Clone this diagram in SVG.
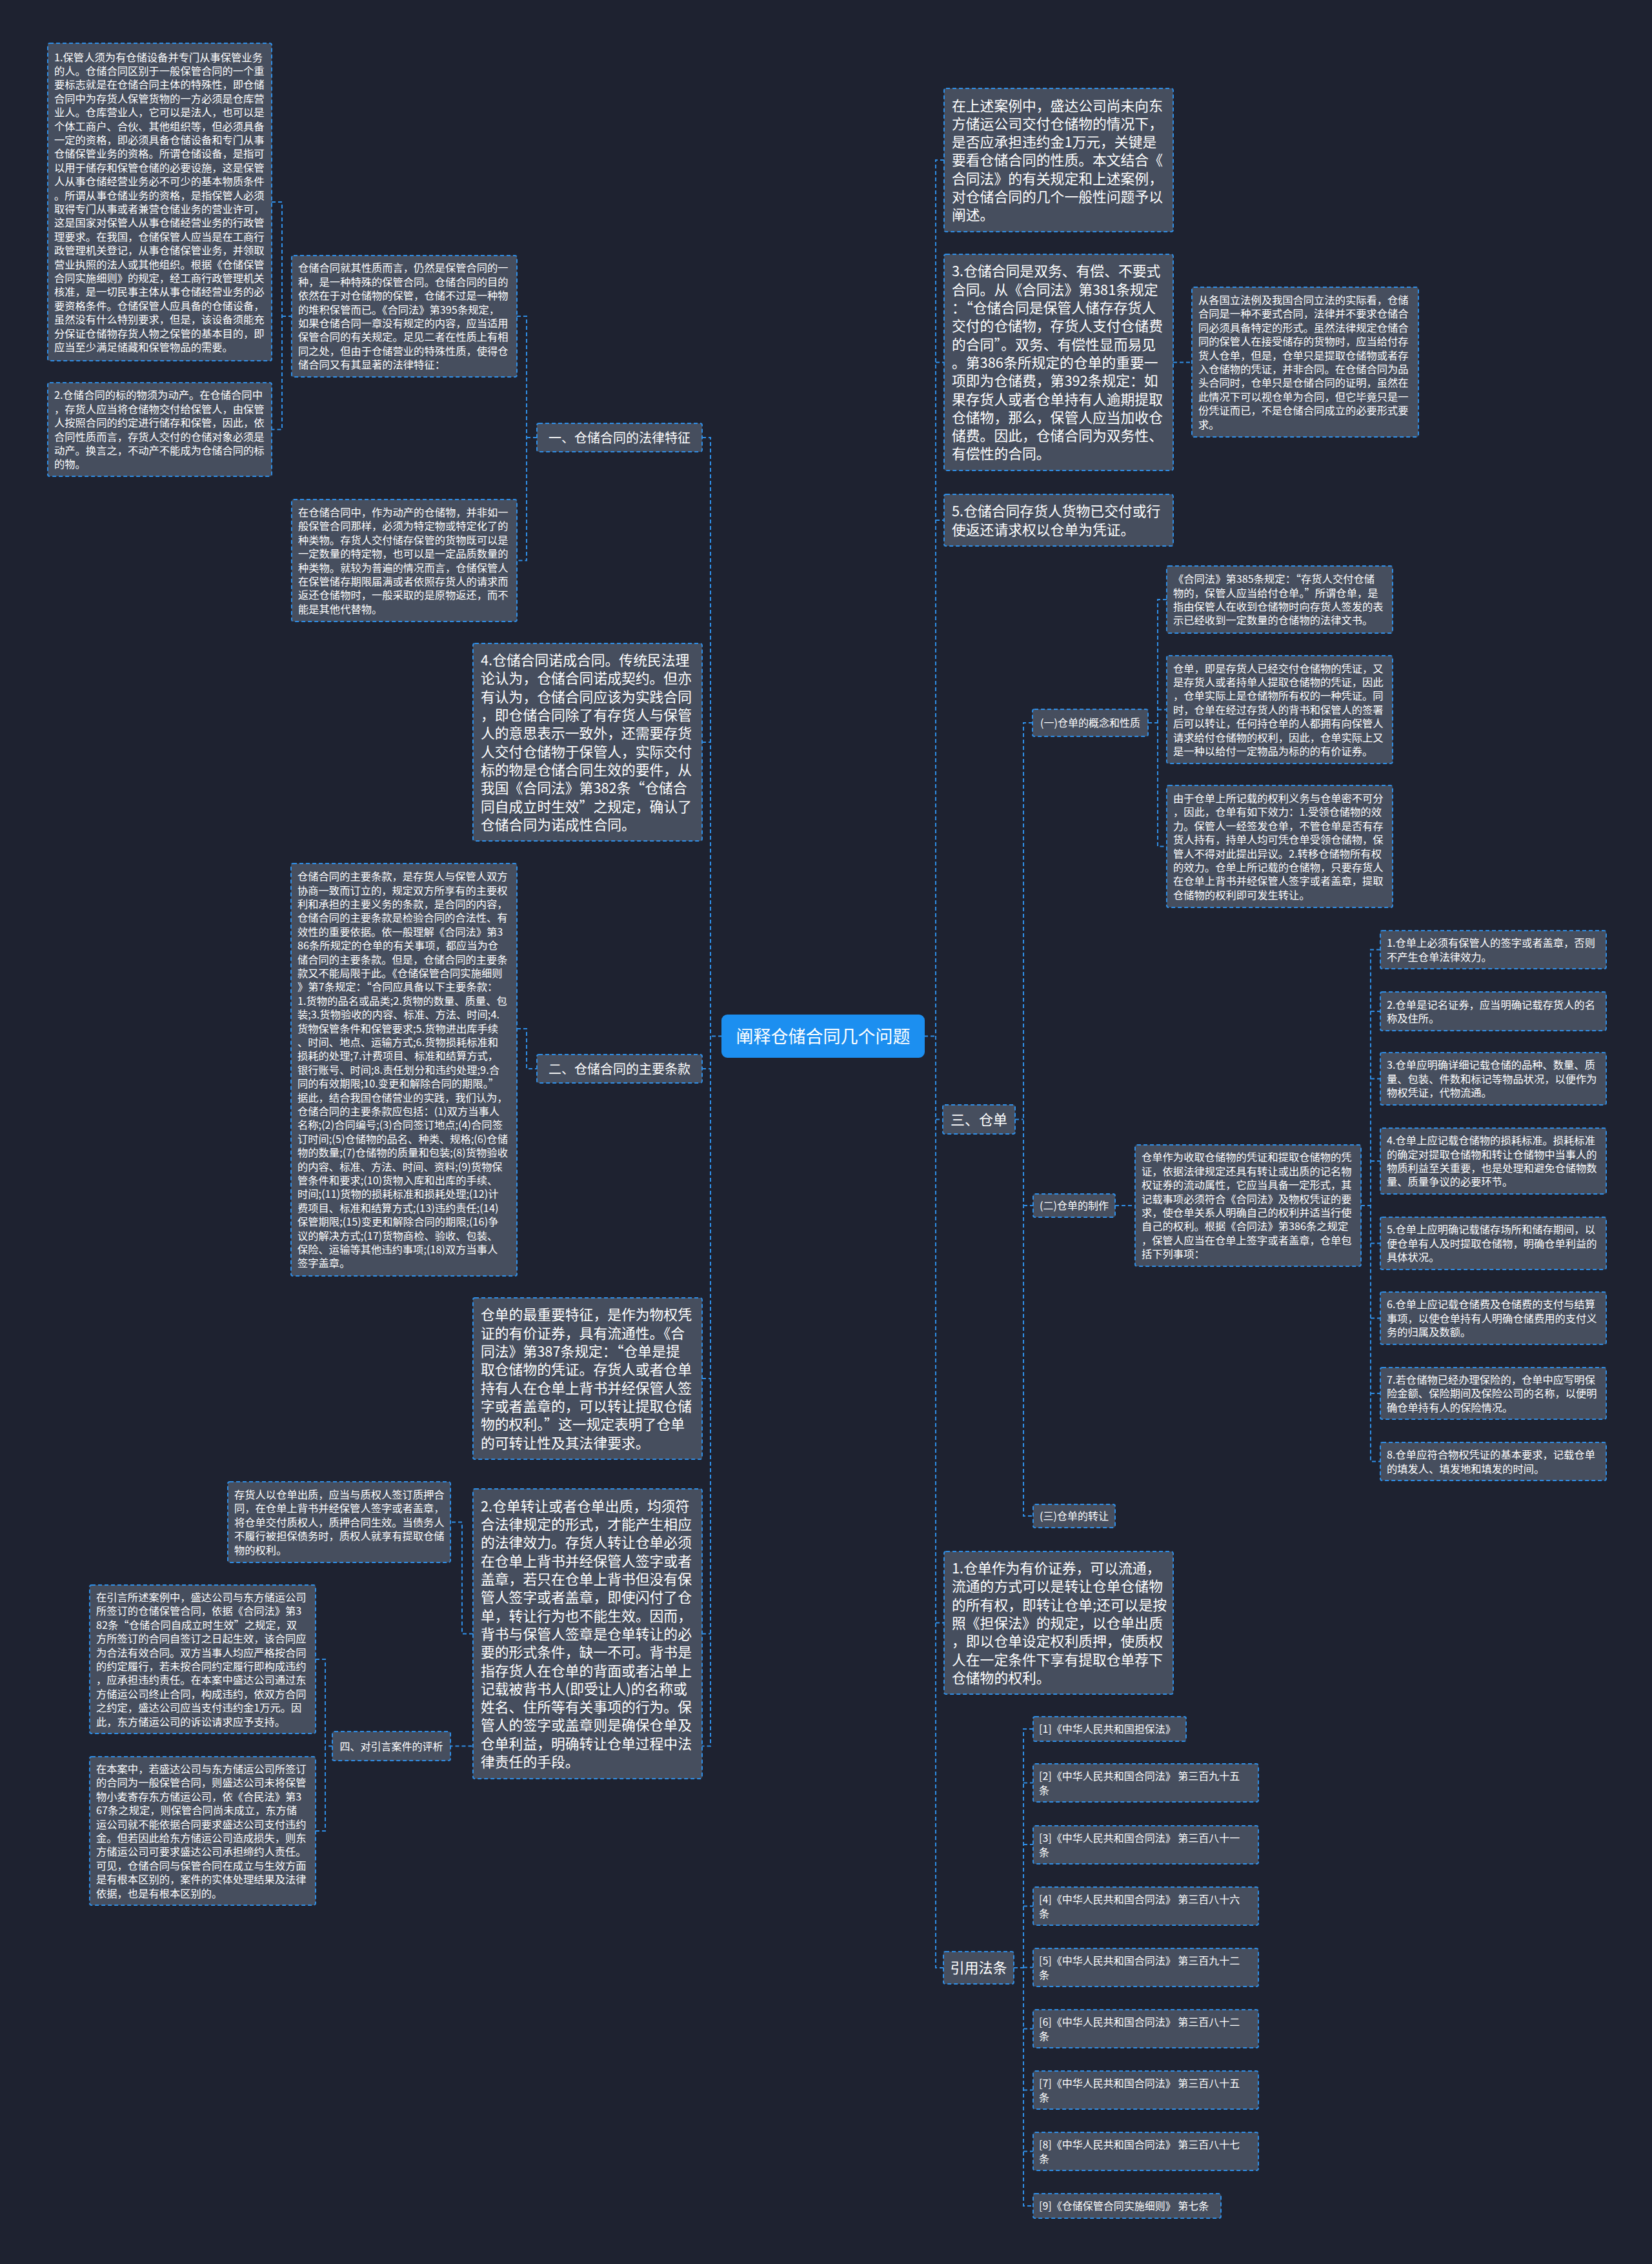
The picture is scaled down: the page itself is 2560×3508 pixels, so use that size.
<svg xmlns="http://www.w3.org/2000/svg" width="2560" height="3508" viewBox="0 0 2560 3508">
<style>
.bg{fill:#1e2230}
.box{fill:#464e5e;stroke:#2f8ee6;stroke-width:2;stroke-dasharray:6 4}
.root{fill:#1c8ff0;stroke:#1c8ff0;stroke-width:2}
.conn{fill:none;stroke:#2f8ee6;stroke-width:2;stroke-dasharray:6 4}
text{font-family:"Noto Sans CJK SC","Noto Sans",sans-serif;fill:#ffffff}
.s{font-size:16.3px}
.b{font-size:21.8px}
.l20{font-size:20px}
.l16{font-size:16px}
.l22{font-size:22px}
.r{font-size:27px}
.m{text-anchor:middle}
</style>
<rect class="bg" x="0" y="0" width="2560" height="3508"/>

<g id="connectors">
<path class="conn" d="M421,313 H437 V665.5 H421 M437,490 H452"/>
<path class="conn" d="M801,490 H816 V868.5 H801 M816,678 H832"/>
<path class="conn" d="M801,1594 H816 V1656 H832"/>
<path class="conn" d="M1119,1605.5 H1101 M1088,678 H1101 V2705.5 H698 M1088,1150 H1101 M1088,1656 H1101 M1088,2136 H1101 M1088,2531.5 H1101"/>
<path class="conn" d="M733,2531.5 H716 V2358.5 H698"/>
<path class="conn" d="M515,2705.5 H504 M489,2571 H504 V2837 H489"/>
<path class="conn" d="M1432,1605.5 H1450 M1463,248 H1450 V3049 H1462 M1450,561.5 H1463 M1450,806 H1463 M1450,1734.5 H1461 M1450,2514.5 H1463"/>
<path class="conn" d="M1818,561.5 H1847"/>
<path class="conn" d="M1573,1734.5 H1586 M1600,1120 H1586 V2349 H1601 M1586,1868 H1601"/>
<path class="conn" d="M1779,1120 H1794 M1808,929 H1794 V1311.5 H1808 M1794,1099.5 H1808"/>
<path class="conn" d="M1728,1868 H1759"/>
<path class="conn" d="M2109,1868 H2124 M2139,1471.5 H2124 V2264.5 H2139 M2124,1567 H2139 M2124,1671.5 H2139 M2124,1799 H2139 M2124,1926.5 H2139 M2124,2042.5 H2139 M2124,2159 H2139"/>
<path class="conn" d="M1571,3049 H1586 M1601,2679 H1586 V3418 H1601 M1586,2762.5 H1601 M1586,2858 H1601 M1586,2953.5 H1601 M1586,3048.5 H1601 M1586,3143.5 H1601 M1586,3238.5 H1601 M1586,3333.5 H1601"/>
</g>

<g id="root">
<rect class="root" x="1119" y="1573" width="313" height="65" rx="8"/>
<text class="r m" x="1275.5" y="1615.8">阐释仓储合同几个问题</text>
</g>

<g id="n-a1">
<rect class="box" x="74" y="67" width="347" height="492" rx="3"/>
<text class="s" x="84" y="94.6"><tspan x="84" dy="0">1.保管人须为有仓储设备并专门从事保管业务</tspan><tspan x="84" dy="21.4">的人。仓储合同区别于一般保管合同的一个重</tspan><tspan x="84" dy="21.4">要标志就是在仓储合同主体的特殊性，即仓储</tspan><tspan x="84" dy="21.4">合同中为存货人保管货物的一方必须是仓库营</tspan><tspan x="84" dy="21.4">业人。仓库营业人，它可以是法人，也可以是</tspan><tspan x="84" dy="21.4">个体工商户、合伙、其他组织等，但必须具备</tspan><tspan x="84" dy="21.4">一定的资格，即必须具备仓储设备和专门从事</tspan><tspan x="84" dy="21.4">仓储保管业务的资格。所谓仓储设备，是指可</tspan><tspan x="84" dy="21.4">以用于储存和保管仓储的必要设施，这是保管</tspan><tspan x="84" dy="21.4">人从事仓储经营业务必不可少的基本物质条件</tspan><tspan x="84" dy="21.4">。所谓从事仓储业务的资格，是指保管人必须</tspan><tspan x="84" dy="21.4">取得专门从事或者兼营仓储业务的营业许可，</tspan><tspan x="84" dy="21.4">这是国家对保管人从事仓储经营业务的行政管</tspan><tspan x="84" dy="21.4">理要求。在我国，仓储保管人应当是在工商行</tspan><tspan x="84" dy="21.4">政管理机关登记，从事仓储保管业务，并领取</tspan><tspan x="84" dy="21.4">营业执照的法人或其他组织。根据《仓储保管</tspan><tspan x="84" dy="21.4">合同实施细则》的规定，经工商行政管理机关</tspan><tspan x="84" dy="21.4">核准，是一切民事主体从事仓储经营业务的必</tspan><tspan x="84" dy="21.4">要资格条件。仓储保管人应具备的仓储设备，</tspan><tspan x="84" dy="21.4">虽然没有什么特别要求，但是，该设备须能充</tspan><tspan x="84" dy="21.4">分保证仓储物存货人物之保管的基本目的，即</tspan><tspan x="84" dy="21.4">应当至少满足储藏和保管物品的需要。</tspan></text>
</g>

<g id="n-a2">
<rect class="box" x="74" y="593" width="347" height="145" rx="3"/>
<text class="s" x="84" y="618.3"><tspan x="84" dy="0">2.仓储合同的标的物须为动产。在仓储合同中</tspan><tspan x="84" dy="21.4">，存货人应当将仓储物交付给保管人，由保管</tspan><tspan x="84" dy="21.4">人按照合同的约定进行储存和保管，因此，依</tspan><tspan x="84" dy="21.4">合同性质而言，存货人交付的仓储对象必须是</tspan><tspan x="84" dy="21.4">动产。换言之，不动产不能成为仓储合同的标</tspan><tspan x="84" dy="21.4">的物。</tspan></text>
</g>

<g id="n-b1">
<rect class="box" x="452" y="396" width="349" height="188" rx="3"/>
<text class="s" x="462" y="421.4"><tspan x="462" dy="0">仓储合同就其性质而言，仍然是保管合同的一</tspan><tspan x="462" dy="21.4">种，是一种特殊的保管合同。仓储合同的目的</tspan><tspan x="462" dy="21.4">依然在于对仓储物的保管，仓储不过是一种物</tspan><tspan x="462" dy="21.4">的堆积保管而已。《合同法》第395条规定，</tspan><tspan x="462" dy="21.4">如果仓储合同一章没有规定的内容，应当适用</tspan><tspan x="462" dy="21.4">保管合同的有关规定。足见二者在性质上有相</tspan><tspan x="462" dy="21.4">同之处，但由于仓储营业的特殊性质，使得仓</tspan><tspan x="462" dy="21.4">储合同又有其显著的法律特征：</tspan></text>
</g>

<g id="n-b2">
<rect class="box" x="452" y="774" width="349" height="189" rx="3"/>
<text class="s" x="462" y="799.9"><tspan x="462" dy="0">在仓储合同中，作为动产的仓储物，并非如一</tspan><tspan x="462" dy="21.4">般保管合同那样，必须为特定物或特定化了的</tspan><tspan x="462" dy="21.4">种类物。存货人交付储存保管的货物既可以是</tspan><tspan x="462" dy="21.4">一定数量的特定物，也可以是一定品质数量的</tspan><tspan x="462" dy="21.4">种类物。就较为普遍的情况而言，仓储保管人</tspan><tspan x="462" dy="21.4">在保管储存期限届满或者依照存货人的请求而</tspan><tspan x="462" dy="21.4">返还仓储物时，一般采取的是原物返还，而不</tspan><tspan x="462" dy="21.4">能是其他代替物。</tspan></text>
</g>

<g id="n-sec1">
<rect class="box" x="832" y="656" width="256" height="44" rx="3"/>
<text class="l20 m" x="960" y="685.6">一、仓储合同的法律特征</text>
</g>

<g id="n-nuocheng">
<rect class="box" x="733" y="997" width="355" height="306" rx="3"/>
<text class="b" x="745" y="1031.1"><tspan x="745" dy="0">4.仓储合同诺成合同。传统民法理</tspan><tspan x="745" dy="28.3">论认为，仓储合同诺成契约。但亦</tspan><tspan x="745" dy="28.3">有认为，仓储合同应该为实践合同</tspan><tspan x="745" dy="28.3">，即仓储合同除了有存货人与保管</tspan><tspan x="745" dy="28.3">人的意思表示一致外，还需要存货</tspan><tspan x="745" dy="28.3">人交付仓储物于保管人，实际交付</tspan><tspan x="745" dy="28.3">标的物是仓储合同生效的要件，从</tspan><tspan x="745" dy="28.3">我国《合同法》第382条“仓储合</tspan><tspan x="745" dy="28.3">同自成立时生效”之规定，确认了</tspan><tspan x="745" dy="28.3">仓储合同为诺成性合同。</tspan></text>
</g>

<g id="n-tiaokuan">
<rect class="box" x="451" y="1338" width="350" height="639" rx="3"/>
<text class="s" x="461" y="1364.2"><tspan x="461" dy="0">仓储合同的主要条款，是存货人与保管人双方</tspan><tspan x="461" dy="21.4">协商一致而订立的，规定双方所享有的主要权</tspan><tspan x="461" dy="21.4">利和承担的主要义务的条款，是合同的内容，</tspan><tspan x="461" dy="21.4">仓储合同的主要条款是检验合同的合法性、有</tspan><tspan x="461" dy="21.4">效性的重要依据。依一般理解《合同法》第3</tspan><tspan x="461" dy="21.4">86条所规定的仓单的有关事项，都应当为仓</tspan><tspan x="461" dy="21.4">储合同的主要条款。但是，仓储合同的主要条</tspan><tspan x="461" dy="21.4">款又不能局限于此。《仓储保管合同实施细则</tspan><tspan x="461" dy="21.4">》第7条规定：“合同应具备以下主要条款：</tspan><tspan x="461" dy="21.4">1.货物的品名或品类;2.货物的数量、质量、包</tspan><tspan x="461" dy="21.4">装;3.货物验收的内容、标准、方法、时间;4.</tspan><tspan x="461" dy="21.4">货物保管条件和保管要求;5.货物进出库手续</tspan><tspan x="461" dy="21.4">、时间、地点、运输方式;6.货物损耗标准和</tspan><tspan x="461" dy="21.4">损耗的处理;7.计费项目、标准和结算方式，</tspan><tspan x="461" dy="21.4">银行账号、时间;8.责任划分和违约处理;9.合</tspan><tspan x="461" dy="21.4">同的有效期限;10.变更和解除合同的期限。”</tspan><tspan x="461" dy="21.4">据此，结合我国仓储营业的实践，我们认为，</tspan><tspan x="461" dy="21.4">仓储合同的主要条款应包括：(1)双方当事人</tspan><tspan x="461" dy="21.4">名称;(2)合同编号;(3)合同签订地点;(4)合同签</tspan><tspan x="461" dy="21.4">订时间;(5)仓储物的品名、种类、规格;(6)仓储</tspan><tspan x="461" dy="21.4">物的数量;(7)仓储物的质量和包装;(8)货物验收</tspan><tspan x="461" dy="21.4">的内容、标准、方法、时间、资料;(9)货物保</tspan><tspan x="461" dy="21.4">管条件和要求;(10)货物入库和出库的手续、</tspan><tspan x="461" dy="21.4">时间;(11)货物的损耗标准和损耗处理;(12)计</tspan><tspan x="461" dy="21.4">费项目、标准和结算方式;(13)违约责任;(14)</tspan><tspan x="461" dy="21.4">保管期限;(15)变更和解除合同的期限;(16)争</tspan><tspan x="461" dy="21.4">议的解决方式;(17)货物商检、验收、包装、</tspan><tspan x="461" dy="21.4">保险、运输等其他违约事项;(18)双方当事人</tspan><tspan x="461" dy="21.4">签字盖章。</tspan></text>
</g>

<g id="n-sec2">
<rect class="box" x="832" y="1634" width="256" height="44" rx="3"/>
<text class="l20 m" x="960" y="1663.6">二、仓储合同的主要条款</text>
</g>

<g id="n-tezheng">
<rect class="box" x="733" y="2011" width="355" height="250" rx="3"/>
<text class="b" x="745" y="2045.4"><tspan x="745" dy="0">仓单的最重要特征，是作为物权凭</tspan><tspan x="745" dy="28.3">证的有价证券，具有流通性。《合</tspan><tspan x="745" dy="28.3">同法》第387条规定：“仓单是提</tspan><tspan x="745" dy="28.3">取仓储物的凭证。存货人或者仓单</tspan><tspan x="745" dy="28.3">持有人在仓单上背书并经保管人签</tspan><tspan x="745" dy="28.3">字或者盖章的，可以转让提取仓储</tspan><tspan x="745" dy="28.3">物的权利。”这一规定表明了仓单</tspan><tspan x="745" dy="28.3">的可转让性及其法律要求。</tspan></text>
</g>

<g id="n-zhuanrang">
<rect class="box" x="733" y="2307" width="355" height="449" rx="3"/>
<text class="b" x="745" y="2341.8"><tspan x="745" dy="0">2.仓单转让或者仓单出质，均须符</tspan><tspan x="745" dy="28.3">合法律规定的形式，才能产生相应</tspan><tspan x="745" dy="28.3">的法律效力。存货人转让仓单必须</tspan><tspan x="745" dy="28.3">在仓单上背书并经保管人签字或者</tspan><tspan x="745" dy="28.3">盖章，若只在仓单上背书但没有保</tspan><tspan x="745" dy="28.3">管人签字或者盖章，即使闪付了仓</tspan><tspan x="745" dy="28.3">单，转让行为也不能生效。因而，</tspan><tspan x="745" dy="28.3">背书与保管人签章是仓单转让的必</tspan><tspan x="745" dy="28.3">要的形式条件，缺一不可。背书是</tspan><tspan x="745" dy="28.3">指存货人在仓单的背面或者沾单上</tspan><tspan x="745" dy="28.3">记载被背书人(即受让人)的名称或</tspan><tspan x="745" dy="28.3">姓名、住所等有关事项的行为。保</tspan><tspan x="745" dy="28.3">管人的签字或盖章则是确保仓单及</tspan><tspan x="745" dy="28.3">仓单利益，明确转让仓单过程中法</tspan><tspan x="745" dy="28.3">律责任的手段。</tspan></text>
</g>

<g id="n-zhizhi">
<rect class="box" x="353" y="2296" width="345" height="125" rx="3"/>
<text class="s" x="363" y="2322"><tspan x="363" dy="0">存货人以仓单出质，应当与质权人签订质押合</tspan><tspan x="363" dy="21.4">同，在仓单上背书并经保管人签字或者盖章，</tspan><tspan x="363" dy="21.4">将仓单交付质权人，质押合同生效。当债务人</tspan><tspan x="363" dy="21.4">不履行被担保债务时，质权人就享有提取仓储</tspan><tspan x="363" dy="21.4">物的权利。</tspan></text>
</g>

<g id="n-sec4">
<rect class="box" x="515" y="2683" width="183" height="45" rx="3"/>
<text class="l16 m" x="606.5" y="2711.6">四、对引言案件的评析</text>
</g>

<g id="n-case1">
<rect class="box" x="139" y="2456" width="350" height="230" rx="3"/>
<text class="s" x="149" y="2481"><tspan x="149" dy="0">在引言所述案例中，盛达公司与东方储运公司</tspan><tspan x="149" dy="21.4">所签订的仓储保管合同，依据《合同法》第3</tspan><tspan x="149" dy="21.4">82条“仓储合同自成立时生效”之规定，双</tspan><tspan x="149" dy="21.4">方所签订的合同自签订之日起生效，该合同应</tspan><tspan x="149" dy="21.4">为合法有效合同。双方当事人均应严格按合同</tspan><tspan x="149" dy="21.4">的约定履行，若未按合同约定履行即构成违约</tspan><tspan x="149" dy="21.4">，应承担违约责任。在本案中盛达公司通过东</tspan><tspan x="149" dy="21.4">方储运公司终止合同，构成违约，依双方合同</tspan><tspan x="149" dy="21.4">之约定，盛达公司应当支付违约金1万元。因</tspan><tspan x="149" dy="21.4">此，东方储运公司的诉讼请求应予支持。</tspan></text>
</g>

<g id="n-case2">
<rect class="box" x="139" y="2722" width="350" height="230" rx="3"/>
<text class="s" x="149" y="2747"><tspan x="149" dy="0">在本案中，若盛达公司与东方储运公司所签订</tspan><tspan x="149" dy="21.4">的合同为一般保管合同，则盛达公司未将保管</tspan><tspan x="149" dy="21.4">物小麦寄存东方储运公司，依《合民法》第3</tspan><tspan x="149" dy="21.4">67条之规定，则保管合同尚未成立，东方储</tspan><tspan x="149" dy="21.4">运公司就不能依据合同要求盛达公司支付违约</tspan><tspan x="149" dy="21.4">金。但若因此给东方储运公司造成损失，则东</tspan><tspan x="149" dy="21.4">方储运公司可要求盛达公司承担缔约人责任。</tspan><tspan x="149" dy="21.4">可见，仓储合同与保管合同在成立与生效方面</tspan><tspan x="149" dy="21.4">是有根本区别的，案件的实体处理结果及法律</tspan><tspan x="149" dy="21.4">依据，也是有根本区别的。</tspan></text>
</g>

<g id="n-r1">
<rect class="box" x="1463" y="137" width="355" height="222" rx="3"/>
<text class="b" x="1475" y="171.5"><tspan x="1475" dy="0">在上述案例中，盛达公司尚未向东</tspan><tspan x="1475" dy="28.3">方储运公司交付仓储物的情况下，</tspan><tspan x="1475" dy="28.3">是否应承担违约金1万元，关键是</tspan><tspan x="1475" dy="28.3">要看仓储合同的性质。本文结合《</tspan><tspan x="1475" dy="28.3">合同法》的有关规定和上述案例，</tspan><tspan x="1475" dy="28.3">对仓储合同的几个一般性问题予以</tspan><tspan x="1475" dy="28.3">阐述。</tspan></text>
</g>

<g id="n-r2">
<rect class="box" x="1463" y="394" width="355" height="335" rx="3"/>
<text class="b" x="1475" y="428.4"><tspan x="1475" dy="0">3.仓储合同是双务、有偿、不要式</tspan><tspan x="1475" dy="28.3">合同。从《合同法》第381条规定</tspan><tspan x="1475" dy="28.3">：“仓储合同是保管人储存存货人</tspan><tspan x="1475" dy="28.3">交付的仓储物，存货人支付仓储费</tspan><tspan x="1475" dy="28.3">的合同”。双务、有偿性显而易见</tspan><tspan x="1475" dy="28.3">。第386条所规定的仓单的重要一</tspan><tspan x="1475" dy="28.3">项即为仓储费，第392条规定：如</tspan><tspan x="1475" dy="28.3">果存货人或者仓单持有人逾期提取</tspan><tspan x="1475" dy="28.3">仓储物，那么，保管人应当加收仓</tspan><tspan x="1475" dy="28.3">储费。因此，仓储合同为双务性、</tspan><tspan x="1475" dy="28.3">有偿性的合同。</tspan></text>
</g>

<g id="n-r2c">
<rect class="box" x="1847" y="445" width="351" height="232" rx="3"/>
<text class="s" x="1857" y="471"><tspan x="1857" dy="0">从各国立法例及我国合同立法的实际看，仓储</tspan><tspan x="1857" dy="21.4">合同是一种不要式合同，法律并不要求仓储合</tspan><tspan x="1857" dy="21.4">同必须具备特定的形式。虽然法律规定仓储合</tspan><tspan x="1857" dy="21.4">同的保管人在接受储存的货物时，应当给付存</tspan><tspan x="1857" dy="21.4">货人仓单，但是，仓单只是提取仓储物或者存</tspan><tspan x="1857" dy="21.4">入仓储物的凭证，并非合同。在仓储合同为品</tspan><tspan x="1857" dy="21.4">头合同时，仓单只是仓储合同的证明，虽然在</tspan><tspan x="1857" dy="21.4">此情况下可以视仓单为合同，但它毕竟只是一</tspan><tspan x="1857" dy="21.4">份凭证而已，不是仓储合同成立的必要形式要</tspan><tspan x="1857" dy="21.4">求。</tspan></text>
</g>

<g id="n-r3">
<rect class="box" x="1463" y="766" width="355" height="80" rx="3"/>
<text class="b" x="1475" y="800.3"><tspan x="1475" dy="0">5.仓储合同存货人货物已交付或行</tspan><tspan x="1475" dy="28.3">使返还请求权以仓单为凭证。</tspan></text>
</g>

<g id="n-sec3">
<rect class="box" x="1461" y="1712" width="112" height="45" rx="3"/>
<text class="l22 m" x="1517" y="1742.9">三、仓单</text>
</g>

<g id="n-s3a">
<rect class="box" x="1600" y="1099" width="179" height="42" rx="3"/>
<text class="l16 m" x="1689.5" y="1126.1">(一)仓单的概念和性质</text>
</g>

<g id="n-c1">
<rect class="box" x="1808" y="877" width="350" height="104" rx="3"/>
<text class="s" x="1818" y="903.2"><tspan x="1818" dy="0">《合同法》第385条规定：“存货人交付仓储</tspan><tspan x="1818" dy="21.4">物的，保管人应当给付仓单。”所谓仓单，是</tspan><tspan x="1818" dy="21.4">指由保管人在收到仓储物时向存货人签发的表</tspan><tspan x="1818" dy="21.4">示已经收到一定数量的仓储物的法律文书。</tspan></text>
</g>

<g id="n-c2">
<rect class="box" x="1808" y="1016" width="350" height="167" rx="3"/>
<text class="s" x="1818" y="1041.6"><tspan x="1818" dy="0">仓单，即是存货人已经交付仓储物的凭证，又</tspan><tspan x="1818" dy="21.4">是存货人或者持单人提取仓储物的凭证，因此</tspan><tspan x="1818" dy="21.4">，仓单实际上是仓储物所有权的一种凭证。同</tspan><tspan x="1818" dy="21.4">时，仓单在经过存货人的背书和保管人的签署</tspan><tspan x="1818" dy="21.4">后可以转让，任何持仓单的人都拥有向保管人</tspan><tspan x="1818" dy="21.4">请求给付仓储物的权利，因此，仓单实际上又</tspan><tspan x="1818" dy="21.4">是一种以给付一定物品为标的的有价证券。</tspan></text>
</g>

<g id="n-c3">
<rect class="box" x="1808" y="1217" width="350" height="189" rx="3"/>
<text class="s" x="1818" y="1242.9"><tspan x="1818" dy="0">由于仓单上所记载的权利义务与仓单密不可分</tspan><tspan x="1818" dy="21.4">，因此，仓单有如下效力：1.受领仓储物的效</tspan><tspan x="1818" dy="21.4">力。保管人一经签发仓单，不管仓单是否有存</tspan><tspan x="1818" dy="21.4">货人持有，持单人均可凭仓单受领仓储物，保</tspan><tspan x="1818" dy="21.4">管人不得对此提出异议。2.转移仓储物所有权</tspan><tspan x="1818" dy="21.4">的效力。仓单上所记载的仓储物，只要存货人</tspan><tspan x="1818" dy="21.4">在仓单上背书并经保管人签字或者盖章，提取</tspan><tspan x="1818" dy="21.4">仓储物的权利即可发生转让。</tspan></text>
</g>

<g id="n-s3b">
<rect class="box" x="1601" y="1850" width="127" height="36" rx="3"/>
<text class="l16 m" x="1664.5" y="1874.1">(二)仓单的制作</text>
</g>

<g id="n-zhizuo">
<rect class="box" x="1759" y="1774" width="350" height="188" rx="3"/>
<text class="s" x="1769" y="1799.4"><tspan x="1769" dy="0">仓单作为收取仓储物的凭证和提取仓储物的凭</tspan><tspan x="1769" dy="21.4">证，依据法律规定还具有转让或出质的记名物</tspan><tspan x="1769" dy="21.4">权证券的流动属性，它应当具备一定形式，其</tspan><tspan x="1769" dy="21.4">记载事项必须符合《合同法》及物权凭证的要</tspan><tspan x="1769" dy="21.4">求，使仓单关系人明确自己的权利并适当行使</tspan><tspan x="1769" dy="21.4">自己的权利。根据《合同法》第386条之规定</tspan><tspan x="1769" dy="21.4">，保管人应当在仓单上签字或者盖章，仓单包</tspan><tspan x="1769" dy="21.4">括下列事项：</tspan></text>
</g>

<g id="n-i1">
<rect class="box" x="2139" y="1442" width="350" height="59" rx="3"/>
<text class="s" x="2149" y="1467.1"><tspan x="2149" dy="0">1.仓单上必须有保管人的签字或者盖章，否则</tspan><tspan x="2149" dy="21.4">不产生仓单法律效力。</tspan></text>
</g>
<g id="n-i2">
<rect class="box" x="2139" y="1537" width="350" height="60" rx="3"/>
<text class="s" x="2149" y="1562.6"><tspan x="2149" dy="0">2.仓单是记名证券，应当明确记载存货人的名</tspan><tspan x="2149" dy="21.4">称及住所。</tspan></text>
</g>
<g id="n-i3">
<rect class="box" x="2139" y="1631" width="350" height="81" rx="3"/>
<text class="s" x="2149" y="1656.4"><tspan x="2149" dy="0">3.仓单应明确详细记载仓储的品种、数量、质</tspan><tspan x="2149" dy="21.4">量、包装、件数和标记等物品状况，以便作为</tspan><tspan x="2149" dy="21.4">物权凭证，代物流通。</tspan></text>
</g>
<g id="n-i4">
<rect class="box" x="2139" y="1748" width="350" height="102" rx="3"/>
<text class="s" x="2149" y="1773.2"><tspan x="2149" dy="0">4.仓单上应记载仓储物的损耗标准。损耗标准</tspan><tspan x="2149" dy="21.4">的确定对提取仓储物和转让仓储物中当事人的</tspan><tspan x="2149" dy="21.4">物质利益至关重要，也是处理和避免仓储物数</tspan><tspan x="2149" dy="21.4">量、质量争议的必要环节。</tspan></text>
</g>
<g id="n-i5">
<rect class="box" x="2139" y="1886" width="350" height="81" rx="3"/>
<text class="s" x="2149" y="1911.4"><tspan x="2149" dy="0">5.仓单上应明确记载储存场所和储存期间，以</tspan><tspan x="2149" dy="21.4">便仓单有人及时提取仓储物，明确仓单利益的</tspan><tspan x="2149" dy="21.4">具体状况。</tspan></text>
</g>
<g id="n-i6">
<rect class="box" x="2139" y="2002" width="350" height="81" rx="3"/>
<text class="s" x="2149" y="2027.4"><tspan x="2149" dy="0">6.仓单上应记载仓储费及仓储费的支付与结算</tspan><tspan x="2149" dy="21.4">事项，以使仓单持有人明确仓储费用的支付义</tspan><tspan x="2149" dy="21.4">务的归属及数额。</tspan></text>
</g>
<g id="n-i7">
<rect class="box" x="2139" y="2119" width="350" height="80" rx="3"/>
<text class="s" x="2149" y="2143.9"><tspan x="2149" dy="0">7.若仓储物已经办理保险的，仓单中应写明保</tspan><tspan x="2149" dy="21.4">险金额、保险期间及保险公司的名称，以便明</tspan><tspan x="2149" dy="21.4">确仓单持有人的保险情况。</tspan></text>
</g>
<g id="n-i8">
<rect class="box" x="2139" y="2235" width="350" height="59" rx="3"/>
<text class="s" x="2149" y="2260.1"><tspan x="2149" dy="0">8.仓单应符合物权凭证的基本要求，记载仓单</tspan><tspan x="2149" dy="21.4">的填发人、填发地和填发的时间。</tspan></text>
</g>

<g id="n-s3c">
<rect class="box" x="1601" y="2331" width="127" height="36" rx="3"/>
<text class="l16 m" x="1664.5" y="2355.1">(三)仓单的转让</text>
</g>

<g id="n-youjia">
<rect class="box" x="1463" y="2404" width="355" height="221" rx="3"/>
<text class="b" x="1475" y="2438"><tspan x="1475" dy="0">1.仓单作为有价证券，可以流通，</tspan><tspan x="1475" dy="28.3">流通的方式可以是转让仓单仓储物</tspan><tspan x="1475" dy="28.3">的所有权，即转让仓单;还可以是按</tspan><tspan x="1475" dy="28.3">照《担保法》的规定，以仓单出质</tspan><tspan x="1475" dy="28.3">，即以仓单设定权利质押，使质权</tspan><tspan x="1475" dy="28.3">人在一定条件下享有提取仓单荐下</tspan><tspan x="1475" dy="28.3">仓储物的权利。</tspan></text>
</g>

<g id="n-refs">
<rect class="box" x="1462" y="3024" width="109" height="50" rx="3"/>
<text class="l22 m" x="1516.5" y="3057.4">引用法条</text>
</g>

<g id="n-ref1">
<rect class="box" x="1601" y="2660" width="237" height="38" rx="3"/>
<text class="l16" x="1610" y="2685.1">[1]《中华人民共和国担保法》</text>
</g>
<g id="n-ref2">
<rect class="box" x="1601" y="2733" width="349" height="59" rx="3"/>
<text class="l16" x="1610" y="2757.6"><tspan x="1610" dy="0">[2]《中华人民共和国合同法》 第三百九十五</tspan><tspan x="1610" dy="22">条</tspan></text>
</g>
<g id="n-ref3">
<rect class="box" x="1601" y="2829" width="349" height="59" rx="3"/>
<text class="l16" x="1610" y="2853.6"><tspan x="1610" dy="0">[3]《中华人民共和国合同法》 第三百八十一</tspan><tspan x="1610" dy="22">条</tspan></text>
</g>
<g id="n-ref4">
<rect class="box" x="1601" y="2924" width="349" height="59" rx="3"/>
<text class="l16" x="1610" y="2948.6"><tspan x="1610" dy="0">[4]《中华人民共和国合同法》 第三百八十六</tspan><tspan x="1610" dy="22">条</tspan></text>
</g>
<g id="n-ref5">
<rect class="box" x="1601" y="3019" width="349" height="59" rx="3"/>
<text class="l16" x="1610" y="3043.6"><tspan x="1610" dy="0">[5]《中华人民共和国合同法》 第三百九十二</tspan><tspan x="1610" dy="22">条</tspan></text>
</g>
<g id="n-ref6">
<rect class="box" x="1601" y="3114" width="349" height="59" rx="3"/>
<text class="l16" x="1610" y="3138.6"><tspan x="1610" dy="0">[6]《中华人民共和国合同法》 第三百八十二</tspan><tspan x="1610" dy="22">条</tspan></text>
</g>
<g id="n-ref7">
<rect class="box" x="1601" y="3209" width="349" height="59" rx="3"/>
<text class="l16" x="1610" y="3233.6"><tspan x="1610" dy="0">[7]《中华人民共和国合同法》 第三百八十五</tspan><tspan x="1610" dy="22">条</tspan></text>
</g>
<g id="n-ref8">
<rect class="box" x="1601" y="3304" width="349" height="59" rx="3"/>
<text class="l16" x="1610" y="3328.6"><tspan x="1610" dy="0">[8]《中华人民共和国合同法》 第三百八十七</tspan><tspan x="1610" dy="22">条</tspan></text>
</g>
<g id="n-ref9">
<rect class="box" x="1601" y="3399" width="291" height="38" rx="3"/>
<text class="l16" x="1610" y="3424.1">[9]《仓储保管合同实施细则》 第七条</text>
</g>
</svg>
